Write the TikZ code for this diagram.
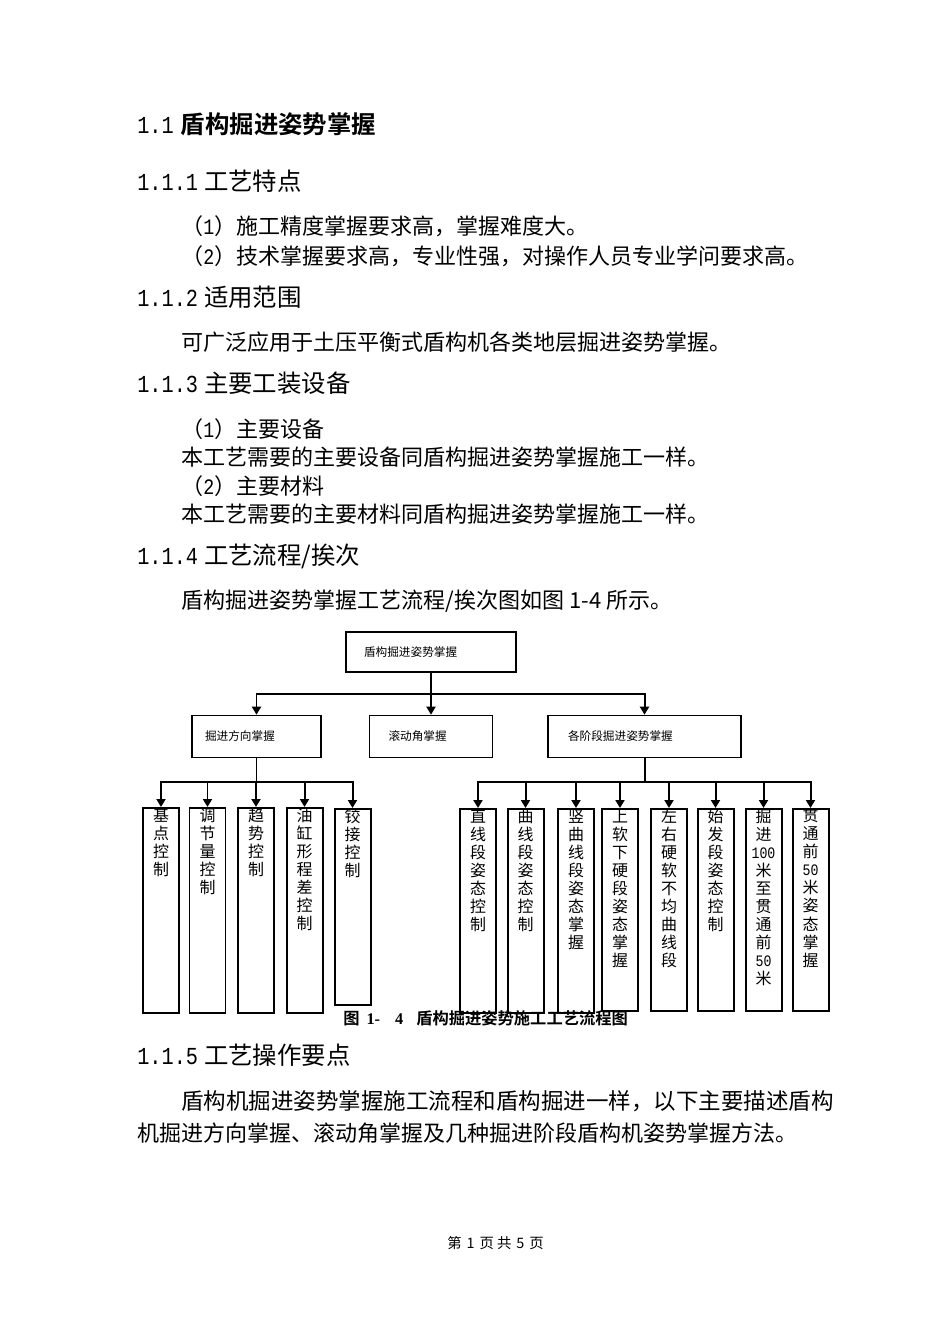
\documentclass[tikz,border=0pt]{standalone}
\usepackage{fontspec}
\usetikzlibrary{arrows.meta}
\setmainfont{Noto Sans CJK SC}[BoldFont={Noto Sans CJK SC Bold}]
\newfontfamily\numfont{Liberation Mono}[FakeStretch=0.83]
\newfontfamily\capnum{Liberation Serif}

\newdimen\pxu \pxu=0.6266pt
\newcommand\bodysize{\fontsize{13.8pt}{16pt}\selectfont}
\newcommand\headsize{\fontsize{15.3pt}{18pt}\selectfont}
\newcommand\flowsize{\fontsize{7.3pt}{9pt}\selectfont}
\newcommand\leafsize{\fontsize{10pt}{11.3pt}\selectfont}
\newcommand\boxtext[2]{\makebox[#1\pxu][l]{#2}}
\newcommand\leaftext[2]{\parbox[t][#1\pxu][t]{36\pxu}{\leafsize\centering #2}}

\begin{document}
\begin{tikzpicture}[x=0.6266pt,y=-0.6266pt]
  \fill[white] (0,0) rectangle (950,1344);
  \useasboundingbox (0,0) rectangle (950,1344);

  \begin{scope}[every node/.style={anchor=west,inner sep=0pt,font=\headsize}]
    \node (h1)  at (137,124)  {{\numfont 1.1}\hspace{7\pxu}{\bfseries 盾构掘进姿势掌握}};
    \node (h11) at (137,181)  {{\numfont 1.1.1}\hspace{6\pxu}工艺特点};
    \node (h12) at (137,297)  {{\numfont 1.1.2}\hspace{6\pxu}适用范围};
    \node (h13) at (137,383)  {{\numfont 1.1.3}\hspace{6\pxu}主要工装设备};
    \node (h14) at (137,556)  {{\numfont 1.1.4}\hspace{6\pxu}工艺流程/挨次};
    \node (h15) at (137,1055) {{\numfont 1.1.5}\hspace{6\pxu}工艺操作要点};
  \end{scope}

  \begin{scope}[every node/.style={anchor=west,inner sep=0pt,font=\bodysize}]
    \node (p1)  at (181,226)  {（{\numfont 1}）施工精度掌握要求高，掌握难度大。};
    \node (p2)  at (181,256)  {（{\numfont 2}）技术掌握要求高，专业性强，对操作人员专业学问要求高。};
    \node (p3)  at (181,342)  {可广泛应用于土压平衡式盾构机各类地层掘进姿势掌握。};
    \node (p4)  at (181,429)  {（{\numfont 1}）主要设备};
    \node (p5)  at (181,457)  {本工艺需要的主要设备同盾构掘进姿势掌握施工一样。};
    \node (p6)  at (181,486)  {（{\numfont 2}）主要材料};
    \node (p7)  at (181,514)  {本工艺需要的主要材料同盾构掘进姿势掌握施工一样。};
    \node (p8)  at (181,601)  {盾构掘进姿势掌握工艺流程/挨次图如图 1-4 所示。};
    \node[font=\fontsize{14.1pt}{16pt}\selectfont] (p9) at (181,1101) {盾构机掘进姿势掌握施工流程和盾构掘进一样，以下主要描述盾构};
    \node (p10) at (137,1133) {机掘进方向掌握、滚动角掌握及几种掘进阶段盾构机姿势掌握方法。};
  \end{scope}

  \begin{scope}[every node/.style={draw,line width=1pt,inner ysep=0pt,minimum height=42\pxu,font=\flowsize}]
    \node[inner xsep=18\pxu,minimum height=40\pxu] (top) at (431,652) {\boxtext{134}{盾构掘进姿势掌握}};
    \node[inner xsep=13\pxu] (dir)   at (256.5,736.5) {\boxtext{103}{掘进方向掌握}};
    \node[inner xsep=19\pxu] (roll)  at (431,736.5)   {\boxtext{85}{滚动角掌握}};
    \node[inner xsep=20\pxu] (stage) at (644.5,736.5) {\boxtext{153}{各阶段掘进姿势掌握}};
  \end{scope}

  \begin{scope}[every node/.style={draw,line width=1.25pt,inner sep=0pt,anchor=north}]
    \node (d1) at (161,807)   {\leaftext{205}{基\\点\\控\\制}};
    \node (d2) at (207.5,807) {\leaftext{205}{调\\节\\量\\控\\制}};
    \node (d3) at (256,807)   {\leaftext{205}{趋\\势\\控\\制}};
    \node (d4) at (304.5,807) {\leaftext{205}{油\\缸\\形\\程\\差\\控\\制}};
    \node (d5) at (352.5,808) {\leaftext{196}{铰\\接\\控\\制}};
    \node (s1) at (478,808)   {\leaftext{204}{直\\线\\段\\姿\\态\\控\\制}};
    \node (s2) at (525.5,808) {\leaftext{204}{曲\\线\\段\\姿\\态\\控\\制}};
    \node (s3) at (576,808)   {\leaftext{204}{竖\\曲\\线\\段\\姿\\态\\掌\\握}};
    \node (s4) at (620,808)   {\leaftext{202}{上\\软\\下\\硬\\段\\姿\\态\\掌\\握}};
    \node (s5) at (669,808)   {\leaftext{202}{左\\右\\硬\\软\\不\\均\\曲\\线\\段}};
    \node (s6) at (715.5,808) {\leaftext{202}{始\\发\\段\\姿\\态\\控\\制}};
    \node (s7) at (763.5,808) {\leaftext{202}{掘\\进\\{\numfont 100}\\米\\至\\贯\\通\\前\\{\numfont 50}\\米}};
    \node (s8) at (810.5,808) {\leaftext{202}{贯\\通\\前\\{\numfont 50}\\米\\姿\\态\\掌\\握}};
  \end{scope}

  \begin{scope}[line width=1.25pt,>={Triangle[width=5.6pt,length=5pt]}]
    \coordinate (b0) at (431,694);
    \coordinate (b1) at (256.5,782);
    \coordinate (b2) at (644.5,782);
    \draw (top.south) -- (b0);
    \draw (dir.south) -- (b1);
    \draw (stage.south) -- (b2);
    \foreach \n in {dir,roll,stage}
      \draw[->] (b0) -| (\n.north);
    \foreach \n in {d1,d2,d3,d4,d5}
      \draw[->] (b1) -| (\n.north);
    \foreach \n in {s1,s2,s3,s4,s5,s6,s7,s8}
      \draw[->] (b2) -| (\n.north);
  \end{scope}

  \node[anchor=west,inner sep=0pt,font=\fontsize{10.2pt}{12pt}\selectfont\bfseries] (cap) at (343,1018)
    {图\hspace{7\pxu}{\capnum 1-}\hspace{15\pxu}{\capnum 4}\hspace{13\pxu}盾构掘进姿势施工工艺流程图};

  \node[anchor=west,inner sep=0pt,font=\fontsize{9pt}{11pt}\selectfont] (foot) at (447,1243)
    {第\hspace{5\pxu}1\hspace{5\pxu}页\hspace{3\pxu}共\hspace{5\pxu}5\hspace{5\pxu}页};
\end{tikzpicture}
\end{document}
